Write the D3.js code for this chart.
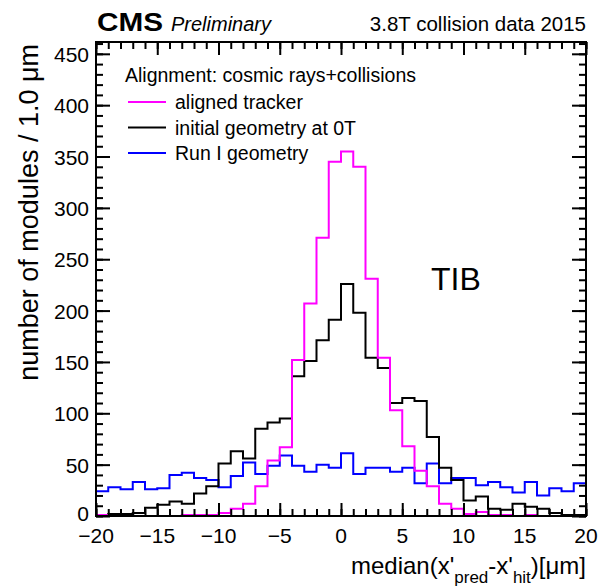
<!DOCTYPE html>
<html>
<head>
<meta charset="utf-8">
<script src="https://cdn.jsdelivr.net/npm/d3@7"></script>
<style>
  body { margin: 0; background: #fff; }
  svg text { font-family: "Liberation Sans", Arial, Helvetica, sans-serif; fill: #000; }
</style>
</head>
<body>
<div id="chart"></div>
<script>
// bin lower edges: -20 .. 19, width 1.0 um
const binEdges = d3.range(-20, 21, 1);

const alignedCounts = [1, 0, 0, 0, 0, 0, 0, 1, 1, 1, 3, 7, 12, 29, 54, 67, 152, 207, 271, 345,
  355, 340, 231, 154, 103, 68, 44, 29, 12, 7, 2, 4, 1, 1, 0, 1, 0, 0, 0, 0];
const initialCounts = [1, 2, 2, 3, 8, 11, 14, 12, 22, 29, 51, 63, 56, 85, 91, 95, 136, 151, 171, 191,
  226, 198, 154, 144, 110, 115, 112, 77, 47, 35, 15, 19, 7, 6, 12, 9, 7, 3, 1, 1];
const runICounts = [24, 28, 26, 33, 26, 27, 40, 42, 37, 35, 28, 39, 52, 41, 49, 59, 49, 43, 50, 47,
  61, 41, 47, 47, 43, 47, 32, 51, 32, 37, 37, 30, 33, 28, 23, 33, 20, 27, 24, 32];

const series = [
  {name: 'Run I geometry', values: runICounts, color: '#0000ff'},
  {name: 'initial geometry at 0T', values: initialCounts, color: '#000000'},
  {name: 'aligned tracker', values: alignedCounts, color: '#ff00ff'}
];
const legendOrder = ['aligned tracker', 'initial geometry at 0T', 'Run I geometry'];

const xTicks = [-20, -15, -10, -5, 0, 5, 10, 15, 20];
const yTicks = [0, 50, 100, 150, 200, 250, 300, 350, 400, 450];

const width = 599, height = 587;
const margin = {top: 42, right: 13, bottom: 71, left: 96};
const plotW = width - margin.left - margin.right;
const plotH = height - margin.top - margin.bottom;

const yMax = 1.3 * d3.max(alignedCounts);

const x = d3.scaleLinear().domain([-20, 20]).range([0, plotW]);
const y = d3.scaleLinear().domain([0, yMax]).range([plotH, 0]);

const svg = d3.select('#chart').append('svg')
  .attr('width', width)
  .attr('height', height);

const g = svg.append('g').attr('transform', `translate(${margin.left},${margin.top})`);

g.append('clipPath').attr('id', 'clip')
  .append('rect').attr('width', plotW).attr('height', plotH);

// step outline like ROOT "hist"
function stepPath(vals) {
  let pts = [[x(-20), y(0)]];
  vals.forEach(function(v, i) {
    pts.push([x(binEdges[i]), y(v)]);
    pts.push([x(binEdges[i + 1]), y(v)]);
  });
  pts.push([x(20), y(0)]);
  return d3.line()(pts);
}

g.append('g').attr('clip-path', 'url(#clip)')
  .selectAll('path')
  .data(series)
  .enter()
  .append('path')
  .attr('d', function(d) { return stepPath(d.values); })
  .attr('fill', 'none')
  .attr('stroke', function(d) { return d.color; })
  .attr('stroke-width', 2);

// axes with ROOT style inner ticks
const minorX = d3.range(-20, 21, 1);
const minorY = d3.range(0, yMax, 10);

function tickAxis(axis, scale, vals, size) {
  return axis(scale).tickValues(vals).tickSize(size).tickFormat('');
}

const xAxisFmt = function(d) { return d < 0 ? '\u2212' + Math.abs(d) : d; };

// bottom
g.append('g').attr('transform', `translate(0,${plotH})`)
  .call(tickAxis(d3.axisTop, x, minorX, 7));
g.append('g').attr('transform', `translate(0,${plotH})`)
  .call(tickAxis(d3.axisTop, x, xTicks, 13));
// top
g.append('g').call(tickAxis(d3.axisBottom, x, minorX, 7));
g.append('g').call(tickAxis(d3.axisBottom, x, xTicks, 13));
// left
g.append('g').call(tickAxis(d3.axisRight, y, minorY, 7));
g.append('g').call(tickAxis(d3.axisRight, y, yTicks, 14));
// right
g.append('g').attr('transform', `translate(${plotW},0)`)
  .call(tickAxis(d3.axisLeft, y, minorY, 7));
g.append('g').attr('transform', `translate(${plotW},0)`)
  .call(tickAxis(d3.axisLeft, y, yTicks, 14));

g.selectAll('.domain').remove();
g.selectAll('.tick line').attr('stroke', '#000').attr('stroke-width', 2);

g.append('rect')
  .attr('width', plotW).attr('height', plotH)
  .attr('fill', 'none').attr('stroke', '#000').attr('stroke-width', 2);

// tick labels
g.selectAll('.xlab').data(xTicks).enter().append('text')
  .attr('class', 'xlab')
  .attr('x', function(d) { return x(d); })
  .attr('y', plotH + 27)
  .attr('text-anchor', 'middle')
  .style('font-size', '21px')
  .text(xAxisFmt);

g.selectAll('.ylab').data(yTicks).enter().append('text')
  .attr('class', 'ylab')
  .attr('x', -7)
  .attr('y', function(d) { return y(d) + (d === 0 ? 5 : 8); })
  .attr('text-anchor', 'end')
  .style('font-size', '21px')
  .text(function(d) { return d; });

// axis titles
const xt = svg.append('text')
  .attr('x', margin.left + plotW)
  .attr('y', 574)
  .attr('text-anchor', 'end')
  .style('font-size', '24px');
xt.append('tspan').text("median(x'");
xt.append('tspan').attr('dy', 9).style('font-size', '17px').text('pred');
xt.append('tspan').attr('dy', -9).text("-x'");
xt.append('tspan').attr('dy', 9).style('font-size', '17px').text('hit');
xt.append('tspan').attr('dy', -9).text(')[\u03bcm]');

svg.append('text')
  .attr('transform', `translate(38,${margin.top + 2}) rotate(-90)`)
  .attr('text-anchor', 'end')
  .style('font-size', '27px')
  .text('number of modules / 1.0 \u03bcm');

// header
svg.append('text')
  .attr('x', 97).attr('y', 31)
  .style('font-size', '25px').style('font-weight', 'bold')
  .attr('textLength', 66).attr('lengthAdjust', 'spacingAndGlyphs')
  .text('CMS');
svg.append('text')
  .attr('x', 171).attr('y', 31)
  .style('font-size', '20px').style('font-style', 'italic')
  .text('Preliminary');
svg.append('text')
  .attr('x', margin.left + plotW).attr('y', 31)
  .attr('text-anchor', 'end')
  .style('font-size', '20.5px')
  .text('3.8T collision data 2015');

// legend
svg.append('text')
  .attr('x', 125).attr('y', 82)
  .style('font-size', '19.5px')
  .text('Alignment: cosmic rays+collisions');

const leg = svg.selectAll('.leg')
  .data(legendOrder.map(function(n) { return series.find(function(s) { return s.name === n; }); }))
  .enter().append('g')
  .attr('class', 'leg')
  .attr('transform', function(d, i) { return `translate(128,${102 + i * 25.5})`; });
leg.append('line')
  .attr('x1', 0).attr('x2', 38)
  .attr('stroke', function(d) { return d.color; })
  .attr('stroke-width', 2);
leg.append('text')
  .attr('x', 47).attr('y', 7)
  .style('font-size', '19.5px')
  .text(function(d) { return d.name; });

// region label
svg.append('text')
  .attr('x', 431).attr('y', 290)
  .style('font-size', '32px')
  .text('TIB');
</script>
</body>
</html>
